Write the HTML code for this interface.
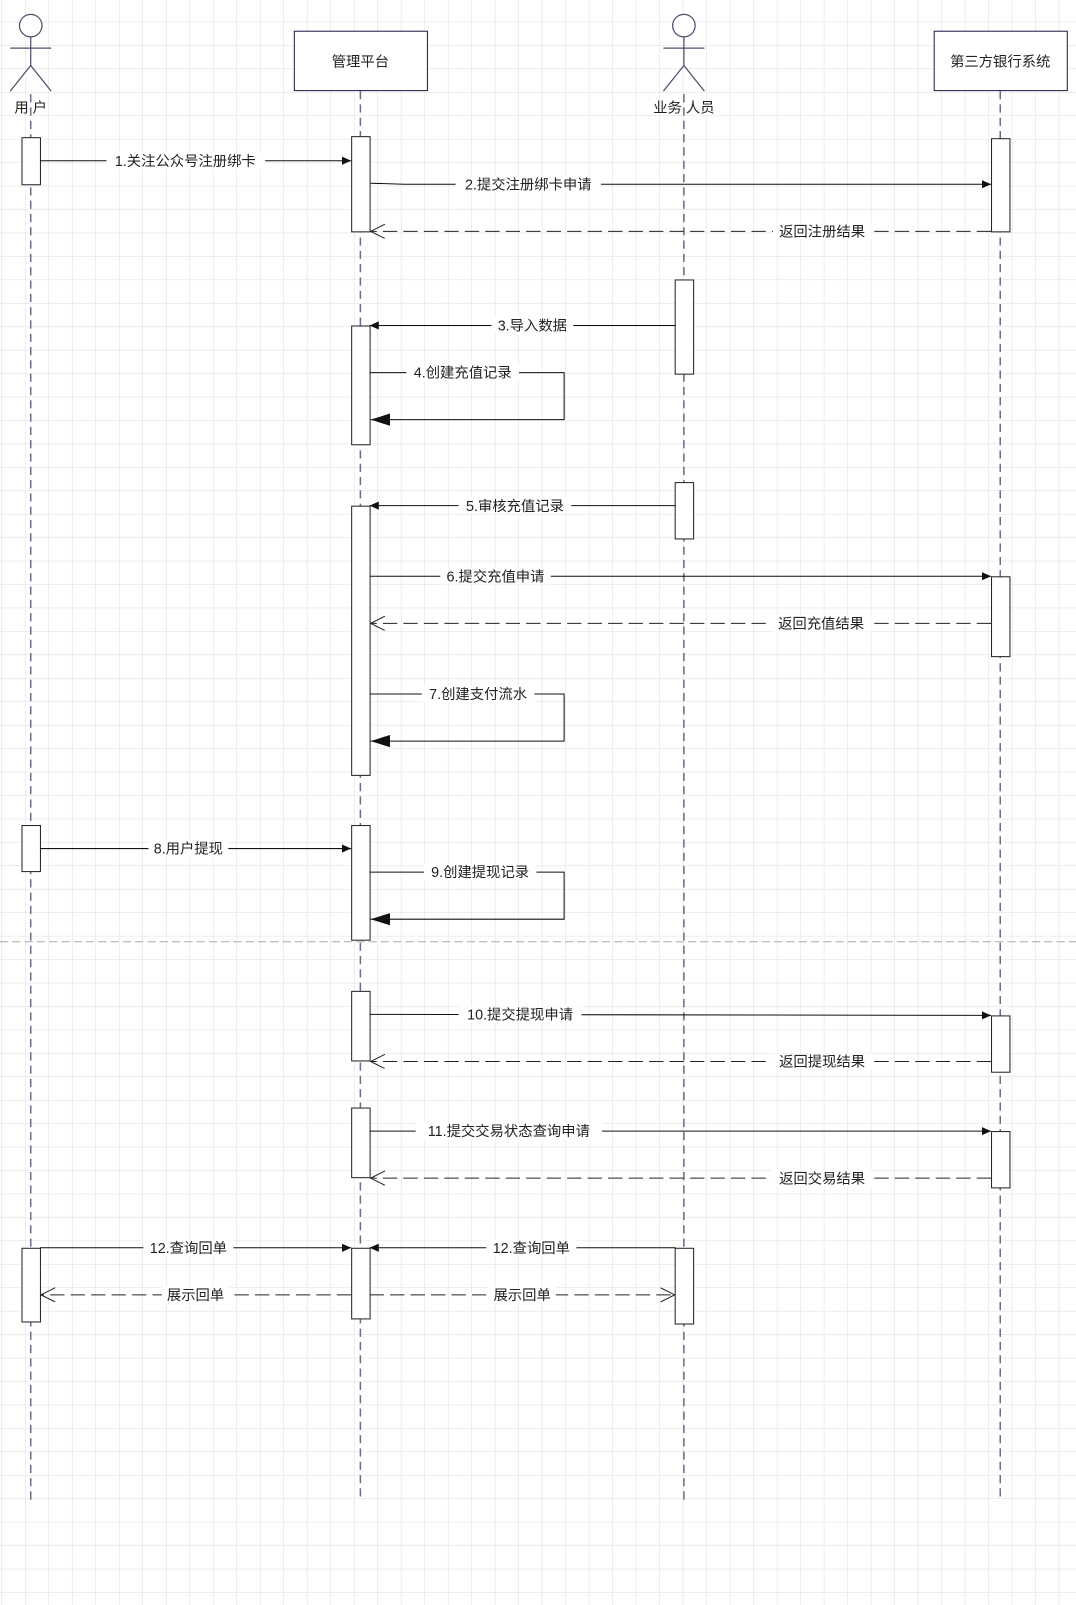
<!DOCTYPE html>
<html><head><meta charset="utf-8">
<style>
html,body{margin:0;padding:0;background:#fff;}
svg{display:block;}
text{font-family:"Liberation Sans","Noto Sans CJK SC",sans-serif;font-size:14px;fill:#222;}
</style></head>
<body>
<svg width="1076" height="1605" viewBox="0 0 1051 1568" preserveAspectRatio="none" xmlns="http://www.w3.org/2000/svg">
<defs>
<pattern id="g" x="1.45" y="-1.7" width="22.95" height="22.9" patternUnits="userSpaceOnUse">
<path d="M0 0H22.95M0 0V22.9" stroke="#dcdcdc" stroke-width="1" fill="none"/>
</pattern>
<marker id="fa" markerWidth="10" markerHeight="10" refX="9" refY="4" orient="auto" markerUnits="userSpaceOnUse"><path d="M0 0L9 4L0 8z" fill="#111"/></marker>
<marker id="big" markerWidth="20" markerHeight="14" refX="19" refY="6" orient="auto" markerUnits="userSpaceOnUse"><path d="M0 0L19 6L0 12z" fill="#111"/></marker>
<marker id="oa" markerWidth="16" markerHeight="16" refX="14" refY="7" orient="auto" markerUnits="userSpaceOnUse"><path d="M0 0L14 7L0 14" fill="none" stroke="#222" stroke-width="1"/></marker>
</defs>
<rect width="1051" height="1568" fill="url(#g)"/>
<line x1="0" y1="920" x2="1051" y2="920" stroke="#aaa" stroke-dasharray="8 4"/>

<g stroke="#6b6f8a" stroke-width="1.5" stroke-dasharray="8 5">
<line x1="30" y1="92" x2="30" y2="1465"/>
<line x1="352" y1="89" x2="352" y2="1465"/>
<line x1="668" y1="92" x2="668" y2="1465"/>
<line x1="977" y1="89" x2="977" y2="1465"/>
</g>

<g stroke="#4a4e6a" stroke-width="1.2" fill="#fff">
<circle cx="30" cy="25" r="11"/>
<line x1="30" y1="36" x2="30" y2="64"/><line x1="10" y1="47" x2="50" y2="47"/>
<line x1="30" y1="64" x2="10" y2="89"/><line x1="30" y1="64" x2="50" y2="89"/>
<circle cx="668" cy="25" r="11"/>
<line x1="668" y1="36" x2="668" y2="64"/><line x1="648" y1="47" x2="688" y2="47"/>
<line x1="668" y1="64" x2="648" y2="89"/><line x1="668" y1="64" x2="688" y2="89"/>
</g>
<text x="30" y="110" text-anchor="middle">用 户</text>
<text x="668" y="110" text-anchor="middle">业务 人员</text>

<rect x="287.5" y="30.5" width="130" height="58" fill="#fff" stroke="#1a1f4a"/>
<text x="352" y="65" text-anchor="middle">管理平台</text>
<rect x="912.5" y="30.5" width="130" height="58" fill="#fff" stroke="#1a1f4a"/>
<text x="977" y="65" text-anchor="middle">第三方银行系统</text>

<g fill="#fff" stroke="#222" stroke-width="1">
<rect x="21.5" y="134.5" width="18" height="46"/>
<rect x="21.5" y="806.5" width="18" height="45"/>
<rect x="21.5" y="1219.5" width="18" height="72"/>
<rect x="343.5" y="133.5" width="18" height="93"/>
<rect x="343.5" y="318.5" width="18" height="116"/>
<rect x="343.5" y="494.5" width="18" height="263"/>
<rect x="343.5" y="806.5" width="18" height="112"/>
<rect x="343.5" y="968.5" width="18" height="68"/>
<rect x="343.5" y="1082.5" width="18" height="68"/>
<rect x="343.5" y="1219.5" width="18" height="69"/>
<rect x="659.5" y="273.5" width="18" height="92"/>
<rect x="659.5" y="471.5" width="18" height="55"/>
<rect x="659.5" y="1219.5" width="18" height="74"/>
<rect x="968.5" y="135.5" width="18" height="91"/>
<rect x="968.5" y="563.5" width="18" height="78"/>
<rect x="968.5" y="992.5" width="18" height="55"/>
<rect x="968.5" y="1105.5" width="18" height="55"/>
</g>

<g stroke="#111" stroke-width="1" fill="none">
<line x1="39" y1="157" x2="343" y2="157" marker-end="url(#fa)"/>
<path d="M362 179L395 180L968 180" marker-end="url(#fa)"/>
<line x1="660" y1="318" x2="361" y2="318" marker-end="url(#fa)"/>
<path d="M361 364H551V410H362" marker-end="url(#big)"/>
<line x1="660" y1="494" x2="361" y2="494" marker-end="url(#fa)"/>
<line x1="361" y1="563" x2="968" y2="563" marker-end="url(#fa)"/>
<path d="M361 678H551V724H362" marker-end="url(#big)"/>
<line x1="39" y1="829" x2="343" y2="829" marker-end="url(#fa)"/>
<path d="M361 852H551V898H362" marker-end="url(#big)"/>
<line x1="361" y1="991" x2="968" y2="992" marker-end="url(#fa)"/>
<line x1="361" y1="1105" x2="968" y2="1105" marker-end="url(#fa)"/>
<line x1="39" y1="1219" x2="343" y2="1219" marker-end="url(#fa)"/>
<line x1="660" y1="1219" x2="361" y2="1219" marker-end="url(#fa)"/>
</g>
<g stroke="#222" stroke-width="1" fill="none" stroke-dasharray="14 6">
<line x1="968" y1="226" x2="362" y2="226" marker-end="url(#oa)"/>
<line x1="968" y1="609" x2="362" y2="609" marker-end="url(#oa)"/>
<line x1="968" y1="1037" x2="362" y2="1037" marker-end="url(#oa)"/>
<line x1="968" y1="1151" x2="362" y2="1151" marker-end="url(#oa)"/>
<line x1="343" y1="1265" x2="40" y2="1265" marker-end="url(#oa)"/>
<line x1="361" y1="1265" x2="659" y2="1265" marker-end="url(#oa)"/>
</g>

<g text-anchor="middle">
<g fill="#fff">
<rect x="104" y="149" width="155" height="16"/>
<rect x="445" y="172" width="142" height="16"/>
<rect x="755" y="218" width="96" height="16"/>
<rect x="480" y="310" width="80" height="16"/>
<rect x="397" y="356" width="110" height="16"/>
<rect x="448" y="486" width="110" height="16"/>
<rect x="430" y="555" width="108" height="16"/>
<rect x="753" y="601" width="98" height="16"/>
<rect x="412" y="670" width="110" height="16"/>
<rect x="145" y="821" width="78" height="16"/>
<rect x="414" y="844" width="110" height="16"/>
<rect x="448" y="983" width="120" height="16"/>
<rect x="754" y="1029" width="98" height="16"/>
<rect x="406" y="1097" width="182" height="16"/>
<rect x="754" y="1143" width="98" height="16"/>
<rect x="140" y="1211" width="88" height="16"/>
<rect x="475" y="1211" width="88" height="16"/>
<rect x="158" y="1257" width="66" height="16"/>
<rect x="477" y="1257" width="66" height="16"/>
</g>
<text x="181" y="162">1.关注公众号注册绑卡</text>
<text x="516" y="185">2.提交注册绑卡申请</text>
<text x="803" y="231">返回注册结果</text>
<text x="520" y="323">3.导入数据</text>
<text x="452" y="369">4.创建充值记录</text>
<text x="503" y="499">5.审核充值记录</text>
<text x="484" y="568">6.提交充值申请</text>
<text x="802" y="614">返回充值结果</text>
<text x="467" y="683">7.创建支付流水</text>
<text x="184" y="834">8.用户提现</text>
<text x="469" y="857">9.创建提现记录</text>
<text x="508" y="996">10.提交提现申请</text>
<text x="803" y="1042">返回提现结果</text>
<text x="497" y="1110">11.提交交易状态查询申请</text>
<text x="803" y="1156">返回交易结果</text>
<text x="184" y="1224">12.查询回单</text>
<text x="519" y="1224">12.查询回单</text>
<text x="191" y="1270">展示回单</text>
<text x="510" y="1270">展示回单</text>
</g>
</svg>
</body></html>
